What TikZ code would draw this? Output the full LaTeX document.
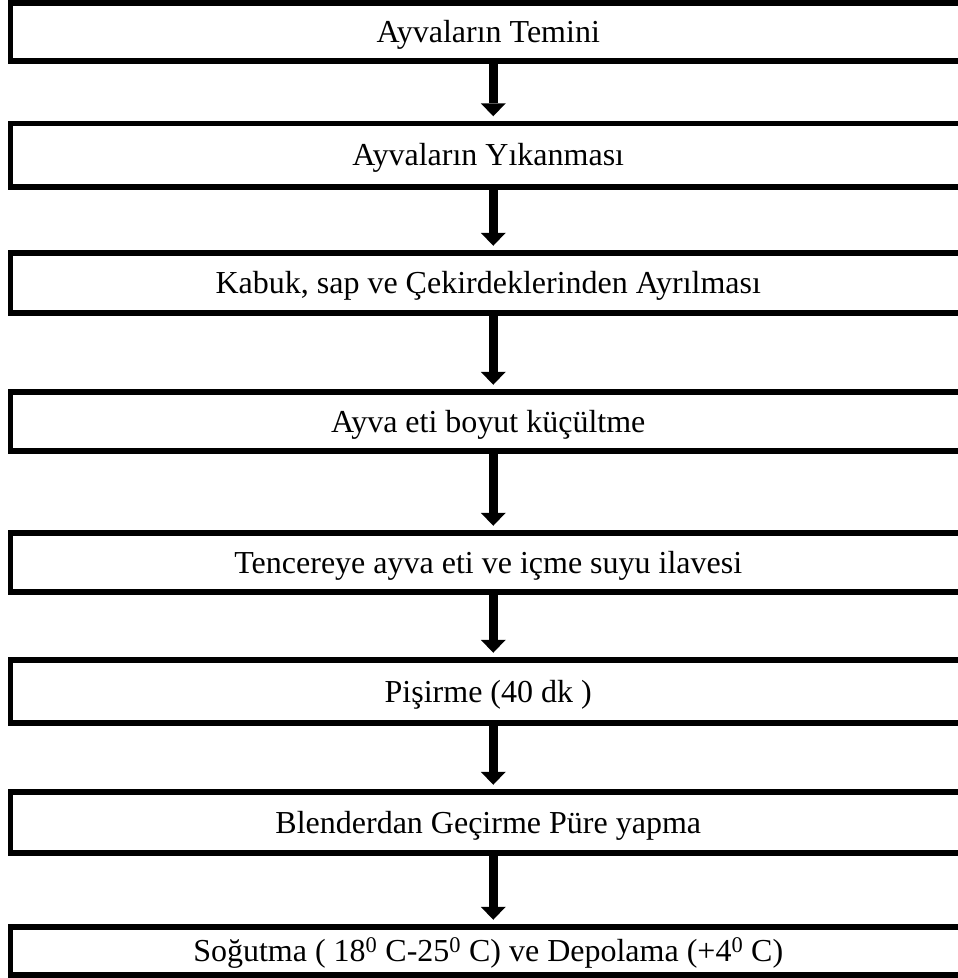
\documentclass[tikz,border=0pt]{standalone}
\usepackage{fontspec}
\setmainfont{Liberation Serif}
\usetikzlibrary{arrows.meta}
\begin{document}
\begin{tikzpicture}[x=1pt,y=-1pt,
  box/.style={draw, line width=5.5pt, minimum width=955.5pt, inner sep=0pt,
    font=\fontsize{32}{38}\selectfont, text height=21.2pt, text depth=0pt},
  flow/.style={line width=9pt, -{Triangle[width=25pt,length=13pt,line width=0pt]}, shorten >=4.5pt}]
\useasboundingbox (0,0) rectangle (958,978);
\clip (0,0) rectangle (958,978);
\node[box, minimum height=58pt]   (b1) at (488.25,32)    {Ayvaların Temini};
\node[box, minimum height=63.5pt] (b2) at (488.25,155.25){Ayvaların Yıkanması};
\node[box, minimum height=60pt]   (b3) at (488.25,283)   {Kabuk, sap ve Çekirdeklerinden Ayrılması};
\node[box, minimum height=59pt]   (b4) at (488.25,421.5) {Ayva eti boyut küçültme};
\node[box, minimum height=59pt]   (b5) at (488.25,562.5) {Tencereye ayva eti ve içme suyu ilavesi};
\node[box, minimum height=63pt]   (b6) at (488.25,691.5) {Pişirme (40 dk )};
\node[box, minimum height=61pt]   (b7) at (488.25,822.5) {Blenderdan Geçirme Püre yapma};
\node[box, minimum height=48pt]   (b8) at (488.25,951)   {Soğutma ( 18\textsuperscript{0} C-25\textsuperscript{0} C) ve Depolama (+4\textsuperscript{0} C)};
\draw[flow] ([xshift=5pt]b1.south) -- ([xshift=5pt]b2.north);
\draw[flow] ([xshift=5pt]b2.south) -- ([xshift=5pt]b3.north);
\draw[flow] ([xshift=5pt]b3.south) -- ([xshift=5pt]b4.north);
\draw[flow] ([xshift=5pt]b4.south) -- ([xshift=5pt]b5.north);
\draw[flow] ([xshift=5pt]b5.south) -- ([xshift=5pt]b6.north);
\draw[flow] ([xshift=5pt]b6.south) -- ([xshift=5pt]b7.north);
\draw[flow] ([xshift=5pt]b7.south) -- ([xshift=5pt]b8.north);
\end{tikzpicture}
\end{document}
